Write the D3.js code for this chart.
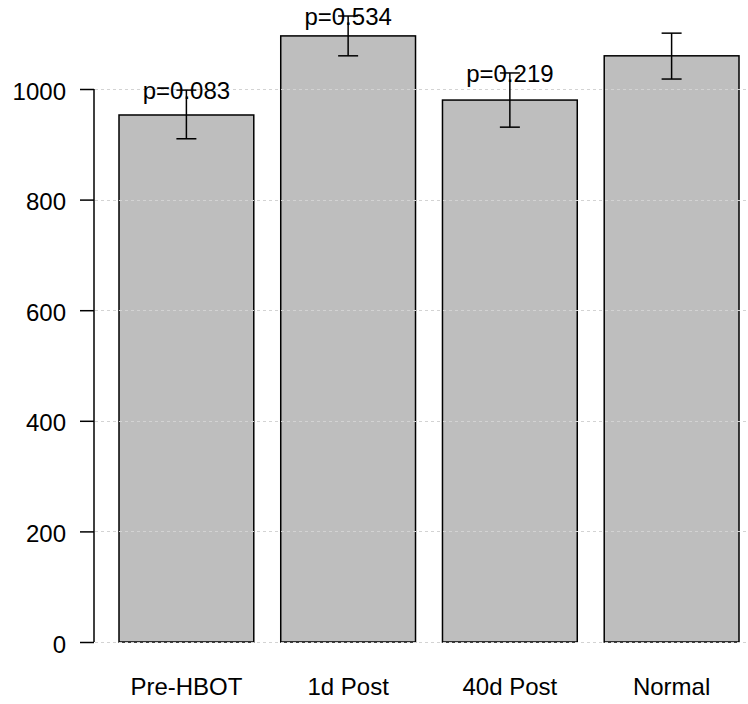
<!DOCTYPE html>
<html>
<head>
<meta charset="utf-8">
<script src="https://cdn.jsdelivr.net/npm/d3@7"></script>
<style>
html,body{margin:0;padding:0;background:#fff;}
svg{display:block;}
text{font-family:"Liberation Sans",Arial,sans-serif;fill:#000;}
</style>
</head>
<body>
<script>
const categories = ["Pre-HBOT", "1d Post", "40d Post", "Normal"];
const means = [953, 1096, 980, 1060];
const upper = [998, 1132, 1029, 1101];
const lower = [910, 1060, 931, 1018];
const pLabels = ["p=0.083", "p=0.534", "p=0.219", null];
const yTicks = [0, 200, 400, 600, 800, 1000];

const W = 748, H = 704;
const svg = d3.select("body").append("svg").attr("width", W).attr("height", H);

const y = d3.scaleLinear().domain([0, 1000]).range([642, 89]);
const x = d3.scaleBand().domain(categories).range([119, 739]).paddingInner(1/6).paddingOuter(0);

const data = categories.map((c, i) => ({c, m: means[i], u: upper[i], l: lower[i], p: pLabels[i]}));

// bars
svg.append("g").selectAll("rect").data(data).join("rect")
  .attr("x", d => x(d.c)).attr("y", d => y(d.m))
  .attr("width", x.bandwidth()).attr("height", d => y(0) - y(d.m))
  .attr("fill", "#bebebe").attr("stroke", "#000").attr("stroke-width", 1.5);

// gridlines on top
svg.append("g").selectAll("line").data(yTicks).join("line")
  .attr("x1", 95).attr("x2", W)
  .attr("y1", d => Math.round(y(d)) + 0.5).attr("y2", d => Math.round(y(d)) + 0.5)
  .attr("stroke", "#d3d3d3").attr("stroke-width", 1).attr("stroke-dasharray", "3,3");

// error bars
const eb = svg.append("g").attr("stroke", "#000").attr("stroke-width", 1.5);
data.forEach(d => {
  const cx = x(d.c) + x.bandwidth() / 2;
  eb.append("line").attr("x1", cx).attr("x2", cx).attr("y1", y(d.u)).attr("y2", y(d.l));
  eb.append("line").attr("x1", cx - 10).attr("x2", cx + 10).attr("y1", y(d.u)).attr("y2", y(d.u));
  eb.append("line").attr("x1", cx - 10).attr("x2", cx + 10).attr("y1", y(d.l)).attr("y2", y(d.l));
});

// p labels
svg.append("g").selectAll("text").data(data.filter(d => d.p)).join("text")
  .attr("x", d => x(d.c) + x.bandwidth() / 2)
  .attr("y", d => y(d.u) + 9)
  .attr("text-anchor", "middle").attr("font-size", 24)
  .text(d => d.p);

// y axis
const yAxis = d3.axisLeft(y).tickValues(yTicks).tickSize(14).tickPadding(14).tickFormat(d3.format("d"));
const ga = svg.append("g").attr("transform", "translate(94,0)").call(yAxis);
ga.select(".domain").attr("stroke", "#000").attr("stroke-width", 1.5).attr("d", `M0,${y(1000)}V${y(0)}`);
ga.selectAll(".tick line").attr("stroke", "#000").attr("stroke-width", 1.5);
ga.selectAll(".tick text").attr("font-size", 24).attr("dy", "0.42em")
  .style("font-family", '"Liberation Sans",Arial,sans-serif');

// x labels
svg.append("g").selectAll("text").data(categories).join("text")
  .attr("x", d => x(d) + x.bandwidth() / 2).attr("y", 695)
  .attr("text-anchor", "middle").attr("font-size", 24)
  .text(d => d);
</script>
</body>
</html>
